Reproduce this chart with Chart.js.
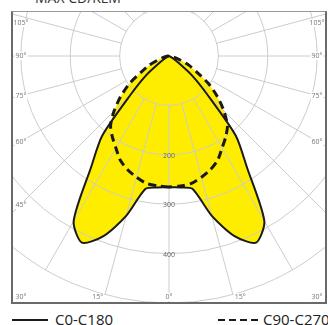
<!DOCTYPE html>
<html>
<head>
<meta charset="utf-8">
<script src="https://cdn.jsdelivr.net/npm/chart.js@4.4.0/dist/chart.umd.min.js"></script>
<style>
  body { margin: 0; width: 328px; height: 325px; position: relative; overflow: hidden; background: #fff; font-family: 'Open Sans', sans-serif; }
  #title { position: absolute; left: 35px; top: -12px; font-size: 14px; color: #333; white-space: nowrap; }
  #frame { position: absolute; left: 11px; top: 11px; width: 316px; height: 293px; box-sizing: border-box;
           border: 2px solid #6a6a6a; border-top: 1px solid #999; overflow: hidden; }
  #wrap { position: absolute; left: -91px; top: -203px; width: 494px; height: 494px; }
  .leg { position: absolute; top: 310px; font-size: 15px; color: #222; line-height: 18px; white-space: nowrap; }
  .sw { position: absolute; top: 319px; height: 1.5px; }
</style>
</head>
<body>
<div id="title">MAX CD/KLM</div>
<div id="frame"><div id="wrap"><canvas id="ldc"></canvas></div></div>
<div class="sw" style="left:12px;width:36px;background:#1a1a1a"></div>
<div class="leg" style="left:55px">C0-C180</div>
<div class="sw" style="left:218px;width:40px;background:repeating-linear-gradient(to right,#1a1a1a 0 7px,transparent 7px 11px)"></div>
<div class="leg" style="left:263px">C90-C270</div>
<script>
// gamma angles from nadir (deg), one half of each plane, mirrored below
const angles = [0, 5, 10, 15, 20, 25, 30, 35, 40, 45, 50, 55, 60, 65, 70, 75, 80, 85, 90];
const c0c180 = [265, 267, 273, 335, 388, 417, 386, 275, 210, 108, 60, 22, 8, 3, 0, 0, 0, 0, 0];
const c90c270 = [265, 264, 262, 254, 245, 233, 215, 200, 184, 157, 128, 98, 65, 45, 25, 14, 6, 2, 0];
const valueLabels = [200, 300, 400];
// [angle, side] where side -1 = left half, 1 = right half
const angleLabels = [[105, -1], [90, -1], [75, -1], [60, -1], [45, -1], [30, -1], [15, -1], [0, -1],
                     [15, 1], [30, 1], [60, 1], [75, 1], [90, 1], [105, 1]];

const ringLabels = [];
for (let a = 0; a < 360; a += 5) ringLabels.push(a);

function fullRing(half) {
    return ringLabels.map(a => {
        const i = angles.indexOf(Math.min(a, 360 - a));
        return i >= 0 ? half[i] : 0;
    });
}

// angle + value labels, placed where rays leave the frame
const ldcLabels = {
    id: 'ldcLabels',
    afterDraw(chart) {
        const r = chart.scales.r;
        const ctx = chart.ctx;
        ctx.save();
        ctx.font = '7px "Open Sans"';
        ctx.textAlign = 'center';
        ctx.textBaseline = 'middle';
        ctx.fillStyle = '#666';
        valueLabels.forEach(v => {
            const p = r.getPointPositionForValue(0, v);
            ctx.fillText(String(v), p.x, p.y + 1);
        });
        angleLabels.forEach(([a, side]) => {
            const idx = side < 0 ? a / 5 : (360 - a) / 5;
            const p = r.getPointPosition(idx, 1);
            const dx = p.x - r.xCenter, dy = p.y - r.yCenter;
            let t = Infinity;
            if (Math.abs(dx) > 1e-6) t = Math.min(t, 149 / Math.abs(dx));
            if (dy > 1e-6) t = Math.min(t, 266 / dy);
            const x = r.xCenter + Math.max(-148, Math.min(148, dx * t));
            const y = r.yCenter + Math.max(-33, Math.min(241, dy * t));
            const txt = a + '°';
            const w = ctx.measureText(txt).width;
            ctx.fillStyle = '#fff';
            ctx.fillRect(x - w / 2 - 1, y - 4, w + 2, 8);
            ctx.fillStyle = '#777';
            ctx.fillText(txt, x, y);
        });
        ctx.restore();
    }
};

new Chart(document.getElementById('ldc'), {
    type: 'radar',
    data: {
        labels: ringLabels,
        datasets: [{
            label: 'C0-C180',
            data: fullRing(c0c180),
            borderColor: '#1a1a1a',
            borderWidth: 2,
            backgroundColor: '#ffed00',
            fill: true,
            pointRadius: 0,
            tension: 0.25
        }, {
            label: 'C90-C270',
            data: fullRing(c90c270),
            borderColor: '#1a1a1a',
            borderWidth: 3,
            borderDash: [8, 5],
            backgroundColor: '#ffed00',
            fill: true,
            pointRadius: 0,
            tension: 0.25
        }]
    },
    options: {
        responsive: true,
        maintainAspectRatio: false,
        animation: false,
        layout: { padding: 0 },
        plugins: {
            legend: { display: false },
            tooltip: { enabled: false },
            filler: { drawTime: 'beforeDraw' }
        },
        scales: {
            r: {
                min: 0,
                max: 500,
                startAngle: 180,
                ticks: { stepSize: 100, display: false },
                grid: { circular: true, color: '#cccccc', lineWidth: 1 },
                angleLines: {
                    color: ctx => ctx.index % 3 === 0 ? '#cccccc' : 'transparent',
                    lineWidth: 1,
                    borderDash: ctx => [0, ctx.chart.scales.r.getDistanceFromCenterForValue(100), 1000, 0]
                },
                pointLabels: { display: false }
            }
        }
    },
    plugins: [ldcLabels]
});
</script>
</body>
</html>
